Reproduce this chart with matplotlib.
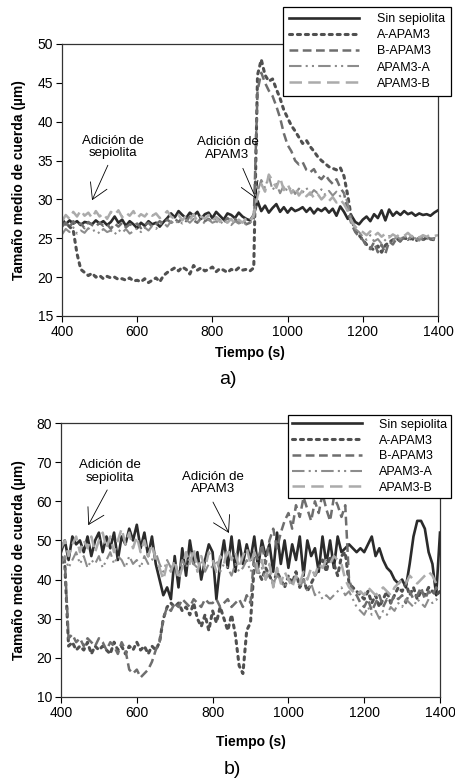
import matplotlib
matplotlib.use("Agg")
import matplotlib.pyplot as plt
import numpy as np

plt.rcParams['font.family'] = ['Liberation Sans', 'DejaVu Sans']

time_s = list(range(400, 1410, 10))

series_names = ["Sin sepiolita", "A-APAM3", "B-APAM3", "APAM3-A", "APAM3-B"]

# ---------- panel a ----------
a_sin = [27.5, 26.8, 27.3, 26.9, 27.2, 26.7, 27.1, 27.0, 26.8, 27.3,
         26.9, 27.2, 26.7, 27.1, 27.8, 27.0, 27.4, 26.6, 27.2, 26.8,
         26.3, 27.0, 26.6, 27.2, 26.8, 27.0, 26.5, 27.1, 27.6, 28.2,
         27.7, 28.5, 28.0, 27.6, 28.3, 27.9, 28.4, 27.5, 28.1, 28.3,
         27.6, 28.4, 27.9, 27.4, 28.2, 28.0, 27.6, 28.3, 27.8, 27.5,
         27.3, 28.0, 29.8, 28.5, 29.2, 28.3, 28.9, 29.4, 28.4, 29.0,
         28.3, 28.9, 28.5, 28.7, 29.0, 28.4, 28.9, 28.2, 28.8, 28.5,
         28.9, 28.3, 28.8, 27.9, 29.1, 28.4, 27.5, 27.9, 27.1, 26.8,
         27.4, 27.8, 27.2, 28.1, 27.6, 28.6, 27.3, 28.7, 27.9, 28.4,
         28.0, 28.5, 28.1, 28.3, 27.9, 28.2, 28.0, 28.1, 27.9, 28.3,
         28.6]
a_A = [26.8, 27.0, 26.5, 26.0, 23.0, 21.0, 20.6, 20.2, 20.5, 20.0,
       20.2, 19.8, 20.1, 19.9, 20.0, 19.7, 19.8, 19.6, 19.9, 19.5,
       19.6, 19.4, 19.8, 19.3, 19.6, 19.9, 19.4, 20.2, 20.6, 20.9,
       21.2, 20.8, 21.3, 21.0, 20.4, 21.5, 20.9, 21.2, 20.8, 21.0,
       21.3, 20.7, 21.1, 20.9, 20.6, 21.0, 20.8, 21.2, 20.9, 21.0,
       20.8, 21.2, 46.0, 48.0, 46.0, 45.2, 45.5, 44.2, 43.0, 41.5,
       40.5, 39.5, 38.8, 38.0, 37.2, 37.6, 36.8, 36.2, 35.5, 35.0,
       34.6, 34.2, 34.0, 33.8, 34.1, 33.0, 30.5, 27.5, 26.0, 25.4,
       24.8, 24.2, 23.8, 23.5, 24.0, 23.2, 24.1, 24.5, 24.8, 25.0,
       24.6, 25.1, 24.8, 25.0, 24.6, 25.0, 24.8, 25.1, 24.9, 24.8,
       25.0]
a_B = [26.5, 27.0, 26.4, 27.2, 26.6, 26.9, 26.3, 27.1, 26.7, 26.5,
       27.0, 26.6, 26.8, 26.2, 26.9, 26.5, 27.0, 26.4, 26.8, 26.6,
       26.9, 26.3, 26.7, 27.0, 26.5, 26.8, 27.2, 26.9, 27.4, 27.0,
       27.5, 27.1, 27.6, 27.2, 27.8, 27.3, 27.0, 27.6, 27.2, 27.5,
       27.1, 27.7, 27.3, 27.0, 27.6, 27.2, 27.5, 27.0, 27.4, 26.8,
       27.0, 27.5, 44.0, 46.3, 45.0, 44.0, 43.3, 42.0, 40.5, 38.5,
       37.0, 36.2, 35.0, 34.5, 34.8, 33.8, 33.5, 33.9, 33.0, 32.6,
       33.2, 32.5, 32.0, 32.6, 31.5, 30.8, 28.5, 26.8, 25.8, 25.2,
       24.8, 24.0, 23.6, 24.5, 23.2, 24.2, 23.0, 24.6, 24.2, 25.0,
       24.6, 25.2, 24.8, 25.3, 24.7, 25.1, 24.8, 25.2, 24.9, 25.0,
       24.8]
a_PA = [25.5, 26.2, 25.8, 26.4, 25.6, 26.0, 25.7, 26.3, 25.9, 26.1,
        25.6, 26.2, 25.8, 26.0, 25.5, 26.1, 25.7, 26.2, 25.6, 25.9,
        26.3, 25.8, 26.4, 26.0, 26.6, 26.2, 26.8, 27.0, 26.5, 27.2,
        26.8, 27.3, 26.9, 27.4, 27.0, 27.5, 27.1, 27.3, 26.9, 27.4,
        27.0, 27.2, 26.8, 27.3, 27.0, 26.7, 27.2, 26.9, 27.1, 26.8,
        27.0, 27.4, 31.0, 32.5, 31.5, 33.0, 31.2, 32.0, 30.8, 31.8,
        31.0, 31.6, 30.7, 31.4, 30.9, 31.5, 30.6, 31.2, 30.8, 31.3,
        30.6, 31.1, 30.5, 31.0, 30.4, 30.8, 29.5, 27.0, 26.2, 25.8,
        25.2, 24.8, 25.4, 24.6, 24.9, 24.3, 24.8, 25.3, 24.7, 25.2,
        24.9, 25.4, 24.8, 25.2, 25.0, 24.7, 25.3, 24.9, 25.1, 24.8,
        25.0]
a_PB = [27.2, 28.0, 27.5, 28.4, 27.8, 28.6, 27.9, 28.3, 27.6, 28.5,
        27.8, 28.2, 27.5, 28.4, 28.0, 28.6, 27.7, 28.3, 27.9, 28.5,
        27.6, 28.1, 27.8, 28.4, 27.9, 28.2, 27.6, 28.0, 28.5, 27.8,
        27.5, 28.0, 27.3, 27.9, 27.4, 28.1, 27.2, 27.8, 27.5, 28.0,
        27.3, 27.7, 27.1, 27.6, 27.0, 27.5, 26.8, 27.4, 27.0, 27.6,
        27.2, 28.0, 30.5, 32.0, 31.0, 33.2, 32.4, 31.5, 32.8, 31.2,
        32.0, 30.8, 31.6, 30.5, 31.2, 30.4, 30.9, 30.2, 30.7, 30.0,
        30.5, 29.8, 30.3, 29.6, 30.0, 29.4, 28.5, 27.2, 26.5, 26.0,
        25.8, 25.4, 25.9, 25.3, 25.7, 25.2, 25.6, 25.1, 25.5, 25.2,
        25.6, 25.3, 25.7, 25.2, 25.5, 25.1, 25.4, 25.2, 25.5, 25.3,
        25.4]

# ---------- panel b ----------
b_sin = [47, 50, 45, 51, 49, 50, 47, 51, 46, 50,
         52, 47, 51, 48, 52, 45, 51, 49, 53, 50,
         54, 48, 52, 46, 51, 44, 40, 36, 38, 35,
         46, 38, 48, 41, 50, 44, 47, 40, 45, 49,
         47, 35, 44, 50, 43, 51, 42, 50, 44, 49,
         45, 51, 43, 50, 46, 49, 42, 52, 44, 50,
         43, 49, 45, 51, 41, 50, 46, 48, 42, 51,
         44, 50, 43, 51, 47, 48, 49, 48, 47, 48,
         47, 49, 51, 46, 48, 45, 43, 42, 40, 39,
         40, 38, 44, 51, 55, 55, 53, 47, 44, 36,
         52]
b_A = [45, 44, 23, 24, 22, 23, 22, 24, 21, 23,
       22, 23, 22, 21, 24, 22, 23, 21, 23, 22,
       24, 22, 23, 21, 23, 22, 24, 30, 33, 34,
       33, 34, 32, 33, 31, 34, 30, 28, 31, 27,
       32, 29, 33, 30, 27, 31, 26, 18, 16, 27,
       29, 44, 42, 40, 43, 41, 39, 42, 40, 38,
       41, 39, 42, 38, 40, 37, 39, 41, 43, 45,
       42, 46, 44, 41, 46, 47, 39, 38, 37, 36,
       35, 37, 34, 36, 33, 35, 37, 34, 36, 38,
       37, 39, 36, 38, 35, 37, 36, 38, 37, 36,
       37]
b_B = [46, 45, 25, 26, 24, 25, 23, 25, 24, 23,
       25, 24, 22, 24, 23, 21, 24, 22, 17, 16,
       17, 15, 16, 17, 19, 22, 24, 30, 33, 32,
       34, 33, 35, 34, 33, 35, 34, 33, 35, 34,
       34, 35, 33, 34, 35, 33, 34, 35, 33, 36,
       34, 47, 45, 49, 44, 50, 53, 48, 52, 55,
       57, 53, 59, 56, 61, 58, 55, 60, 57, 62,
       58, 55, 61, 59, 56, 59, 40, 37, 36, 34,
       33, 35, 32, 34, 36, 33, 35, 34, 36, 35,
       36, 34, 37, 35, 36, 38, 35, 37, 36, 38,
       37]
b_PA = [44, 46, 43, 45, 47, 44, 46, 43, 45, 44,
        46, 43, 45, 47, 44, 46, 45, 43, 46, 44,
        45, 43, 46, 44, 45, 47, 44, 42, 45, 43,
        44, 42, 45, 43, 46, 44, 43, 45, 42, 44,
        43, 45, 42, 44, 43, 41, 44, 42, 43, 45,
        42, 44, 41, 43, 40, 42, 39, 41, 40, 38,
        40, 39, 41, 38, 40, 37, 39, 36, 37, 35,
        36, 35, 36, 37, 38, 36, 37, 35, 33, 32,
        31, 33, 31, 32, 30, 32, 31, 33, 32, 34,
        33, 35, 34, 33, 35, 34, 33, 35, 34, 35,
        34]
b_PB = [48, 50, 46, 49, 51, 47, 50, 48, 51, 47,
        50, 52, 48, 51, 47, 50, 53, 49, 52, 48,
        51, 47, 50, 46, 49, 45, 43, 40, 44, 42,
        45, 40, 43, 47, 44, 48, 42, 46, 43, 47,
        45, 42, 46, 44, 48, 45, 47, 43, 46, 48,
        44, 47, 42, 45, 40, 44, 38, 43, 39, 42,
        40, 38, 41, 39, 42, 40, 43, 41, 44, 43,
        45, 44, 46, 45, 44, 40, 38, 37, 36, 37,
        36, 38, 37, 36, 37, 38, 37, 36, 38, 39,
        40, 39, 41, 40, 39, 40, 41, 42, 41, 39,
        38]

a_yticks = [15, 20, 25, 30, 35, 40, 45, 50]
b_yticks = [10, 20, 30, 40, 50, 60, 70, 80]
xticks = [400, 600, 800, 1000, 1200, 1400]

styles = [
    dict(color="#2b2b2b", lw=1.9, linestyle="-"),
    dict(color="#505050", lw=2.2, linestyle=(0, (1, 1.6)), dash_capstyle="round"),
    dict(color="#6e6e6e", lw=1.8, linestyle=(0, (3.5, 1.8))),
    dict(color="#8c8c8c", lw=1.5, linestyle=(0, (6, 2, 1, 2, 1, 2))),
    dict(color="#ababab", lw=1.8, linestyle=(0, (5, 2.5))),
]

W, H = 456, 781
fig = plt.figure(figsize=(W / 100, H / 100), dpi=100)


def px_axes(l, r, t, b):
    return fig.add_axes([l / W, 1 - b / H, (r - l) / W, (b - t) / H])


def style_ax(ax, ylim, yticks, xlabel_y_px, axes_top_px, axes_bot_px):
    ax.set_xlim(400, 1400)
    ax.set_ylim(*ylim)
    ax.set_xticks(xticks)
    ax.set_yticks(yticks)
    ax.tick_params(direction="out", length=4, width=0.8, labelsize=10,
                   top=False, right=False, colors="black", pad=2.5)
    for s in ax.spines.values():
        s.set_linewidth(0.9)
        s.set_color("#333333")
    ax.set_xlabel("Tiempo (s)", fontsize=10, fontweight="bold")
    ax.set_ylabel("Tamaño medio de cuerda (µm)", fontsize=10, fontweight="bold")
    h = axes_bot_px - axes_top_px
    ax.xaxis.set_label_coords(0.5, -(xlabel_y_px - axes_bot_px) / h)
    ax.xaxis.label.set_va("center")
    ax.yaxis.set_label_coords(-(ax.get_position().x0 * W - 19) / (ax.get_position().width * W), 0.5)
    ax.yaxis.label.set_va("center")


def arrow(ax, text, tip, tail, textpos):
    ax.annotate("", xy=tip, xytext=tail,
                arrowprops=dict(arrowstyle="->,head_length=1.1,head_width=0.65",
                                lw=0.6, color="black", shrinkA=0, shrinkB=0))
    ax.text(textpos[0], textpos[1], text, ha="center", va="bottom", fontsize=9.5,
            linespacing=1.05)


# panel a
axa = px_axes(62, 438, 44, 316)
for y, name, st in zip([a_sin, a_A, a_B, a_PA, a_PB], series_names, styles):
    axa.plot(time_s, y, label=name, **st)
style_ax(axa, (15, 50), a_yticks, 353, 44, 316)
arrow(axa, "Adición de\nsepiolita", (480, 29.9), (522, 34.4), (535, 35.2))
arrow(axa, "Adición de\nAPAM3", (916, 30.1), (881, 34.0), (840, 35.0))
leg = axa.legend(loc="upper left", bbox_to_anchor=(283 / W, 1 - 7 / H),
                 bbox_transform=fig.transFigure, fontsize=9, frameon=True,
                 fancybox=False, edgecolor="black", framealpha=1,
                 handlelength=5.6, handletextpad=1.4, labelspacing=0.33,
                 borderpad=0.5, borderaxespad=0)
leg.get_frame().set_linewidth(0.9)
fig.text(228 / W, 1 - 380 / H, "a)", ha="center", va="center", fontsize=14)

# panel b
axb = px_axes(61, 440, 423, 697)
for y, name, st in zip([b_sin, b_A, b_B, b_PA, b_PB], series_names, styles):
    axb.plot(time_s, y, label=name, **st)
style_ax(axb, (10, 80), b_yticks, 742, 423, 697)
arrow(axb, "Adición de\nsepiolita", (472, 53.9), (522, 62.9), (530, 64.5))
arrow(axb, "Adición de\nAPAM3", (843, 51.9), (801, 59.8), (800, 61.5))
legb = axb.legend(loc="upper left", bbox_to_anchor=(288 / W, 1 - 415 / H),
                  bbox_transform=fig.transFigure, fontsize=9, frameon=True,
                  fancybox=False, edgecolor="black", framealpha=1,
                  handlelength=5.6, handletextpad=1.4, labelspacing=0.3,
                  borderpad=0.3, borderaxespad=0)
legb.get_frame().set_linewidth(0.9)
fig.text(232 / W, 1 - 769 / H, "b)", ha="center", va="center", fontsize=14)

fig.savefig("out.png", dpi=100)
